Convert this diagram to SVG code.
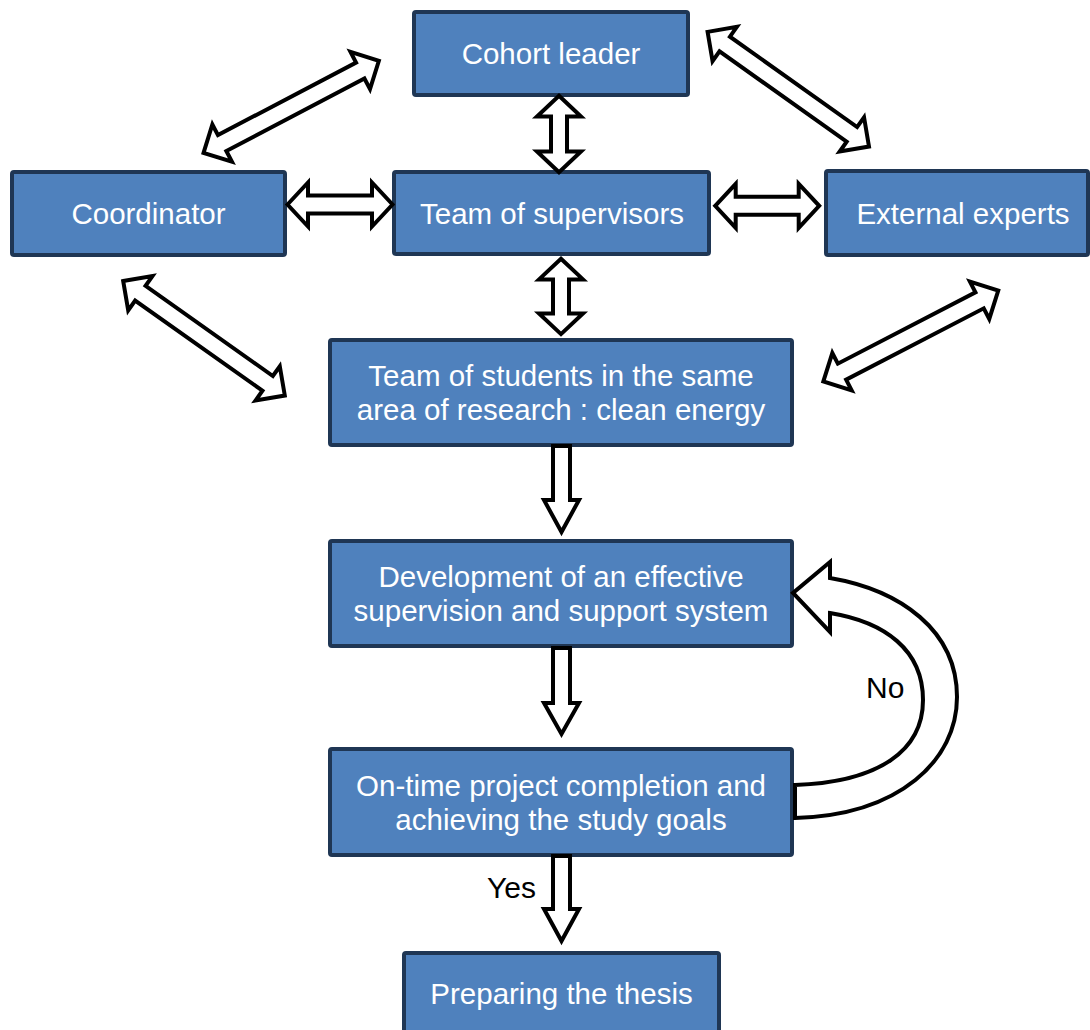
<svg xmlns="http://www.w3.org/2000/svg" width="1090" height="1030" viewBox="0 0 1090 1030">
<style>
.box{fill:#4F81BD;stroke:#1F3654;stroke-width:4}
.lbl{font-family:"Liberation Sans",Arial,sans-serif;font-size:29.5px;fill:#FFFFFF;text-anchor:middle}
.note{font-family:"Liberation Sans",Arial,sans-serif;font-size:30px;fill:#000000}
.arr{fill:#FFFFFF;stroke:#000000;stroke-width:4;stroke-linejoin:miter}
</style>
<rect width="1090" height="1030" fill="#FFFFFF"/>
<g id="cohort-leader"><rect class="box" x="414" y="12" width="274" height="83" rx="2"/><text class="lbl" x="551" y="64">Cohort leader</text></g>
<g id="coordinator"><rect class="box" x="12" y="172" width="273" height="83" rx="2"/><text class="lbl" x="148.5" y="224">Coordinator</text></g>
<g id="team-supervisors"><rect class="box" x="394" y="172" width="315" height="82" rx="2"/><text class="lbl" x="552" y="224">Team of supervisors</text></g>
<g id="external-experts"><rect class="box" x="826" y="171" width="262" height="84" rx="2"/><text class="lbl" x="963" y="224">External experts</text></g>
<g id="team-students"><rect class="box" x="330" y="340" width="462" height="105" rx="2"/><text class="lbl" x="561" y="386">Team of students in the same</text><text class="lbl" x="561" y="420">area of research : clean energy</text></g>
<g id="development"><rect class="box" x="330" y="541" width="462" height="105" rx="2"/><text class="lbl" x="561" y="587">Development of an effective</text><text class="lbl" x="561" y="621">supervision and support system</text></g>
<g id="on-time"><rect class="box" x="330" y="749" width="462" height="106" rx="2"/><text class="lbl" x="561" y="796">On-time project completion and</text><text class="lbl" x="561" y="830">achieving the study goals</text></g>
<g id="thesis"><rect class="box" x="404" y="953" width="315" height="100" rx="2"/><text class="lbl" x="561.5" y="1004">Preparing the thesis</text></g>
<g id="connectors">
<polygon class="arr" transform="translate(291.2,106.8) rotate(-27.7)" points="-99,0 -78,-21 -78,-9 78,-9 78,-21 99,0 78,21 78,9 -78,9 -78,21"/>
<polygon class="arr" transform="translate(788.3,89.2) rotate(35.4)" points="-99,0 -78,-21 -78,-9 78,-9 78,-21 99,0 78,21 78,9 -78,9 -78,21"/>
<polygon class="arr" transform="translate(204,338.3) rotate(35.3)" points="-99,0 -78,-21 -78,-9 78,-9 78,-21 99,0 78,21 78,9 -78,9 -78,21"/>
<polygon class="arr" transform="translate(910.8,336) rotate(-27.4)" points="-98.5,0 -77.5,-21 -77.5,-9 77.5,-9 77.5,-21 98.5,0 77.5,21 77.5,9 -77.5,9 -77.5,21"/>
<polygon class="arr" transform="translate(340,204.5)" points="-52.5,0 -32,-22 -32,-9 32,-9 32,-22 52.5,0 32,22 32,9 -32,9 -32,22"/>
<polygon class="arr" transform="translate(767.2,205.8)" points="-52,0 -31.5,-22 -31.5,-9 31.5,-9 31.5,-22 52,0 31.5,22 31.5,9 -31.5,9 -31.5,22"/>
<polygon class="arr" transform="translate(559,134) rotate(90)" points="-38.3,0 -17.5,-22 -17.5,-8 17.5,-8 17.5,-22 38.3,0 17.5,22 17.5,8 -17.5,8 -17.5,22"/>
<polygon class="arr" transform="translate(561,296.4) rotate(90)" points="-37.7,0 -17,-22 -17,-8 17,-8 17,-22 37.7,0 17,22 17,8 -17,8 -17,22"/>
<polygon class="arr" points="553,446 570,446 570,500 579,500 561.5,532 544,500 553,500"/>
<polygon class="arr" points="553,648 570,648 570,703 579,703 561.5,734 544,703 553,703"/>
<polygon class="arr" points="553,856 570,856 570,909 579,909 561.5,941 544,909 553,909"/>
<path class="arr" d="M795,818 C900,815 957,760 957,697 C957,630 900,590 830,578 L830,562 L793,593 L830,632 L830,613 C885,622 923,650 923,700 C923,750 880,782 795,785 Z"/>
<text class="note" x="866" y="698">No</text>
<text class="note" x="487" y="898">Yes</text>
</g>
</svg>
